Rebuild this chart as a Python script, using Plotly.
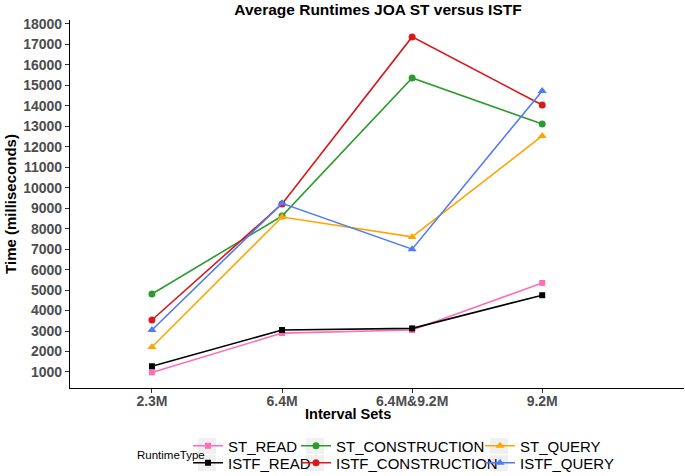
import plotly.graph_objects as go

categories = ["2.3M", "6.4M", "6.4M&9.2M", "9.2M"]

st_read = [980, 2900, 3050, 5350]
istf_read = [1280, 3050, 3130, 4750]
st_construction = [4810, 8620, 15360, 13120]
istf_construction = [3540, 9210, 17370, 14040]
st_query = [2220, 8570, 7600, 12530]
istf_query = [3050, 9240, 7000, 14730]

y_ticks = list(range(1000, 18001, 1000))

W, H = 685, 476
L, R, T, B = 70, 1, 20, 88
PW = W - L - R
PH = H - T - B

def px_x(p):
    return (p - L) / PW

def px_y(p):
    return (H - B - p) / PH

# name, values, colour, symbol, size, legend column left (px), row centre (px)
series = [
    ("ST_READ", st_read, "#FF6EB4", "square", 6, 188, 446),
    ("ISTF_READ", istf_read, "#000000", "square", 6, 188, 463),
    ("ST_CONSTRUCTION", st_construction, "#2E9A2E", "circle", 7, 296, 446),
    ("ISTF_CONSTRUCTION", istf_construction, "#D7191C", "circle", 7, 296, 463),
    ("ST_QUERY", st_query, "#FFA500", "triangle-up", 8, 480, 446),
    ("ISTF_QUERY", istf_query, "#4F7BF7", "triangle-up", 8, 480, 463),
]

FONT = "Liberation Sans, Arial, Helvetica, sans-serif"
legfont = dict(family=FONT, size=15, color="#000000")

fig = go.Figure()
legends = {}
shapes = []
for i, (name, vals, col, sym, sz, lx, ly) in enumerate(series):
    key = "legend" if i == 0 else f"legend{i + 1}"
    fig.add_trace(go.Scatter(
        x=categories, y=vals, name=name, mode="lines+markers",
        line=dict(color=col, width=1.6),
        marker=dict(color=col, symbol=sym, size=sz, line=dict(width=0)),
        legend=key,
    ))
    legends[key] = dict(x=px_x(lx), xanchor="left", y=px_y(ly), yanchor="middle",
                        orientation="v", font=legfont, bgcolor="rgba(0,0,0,0)",
                        itemwidth=30)
    cx = lx + 19
    shapes.append(dict(type="rect", xref="paper", yref="paper",
                       x0=px_x(cx - 9), x1=px_x(cx + 9),
                       y0=px_y(ly + 8), y1=px_y(ly - 8),
                       fillcolor="#F0F0F0", line=dict(width=0), layer="below"))

fig.update_layout(
    width=W, height=H,
    margin=dict(l=L, r=R, t=T, b=B, autoexpand=False),
    paper_bgcolor="white", plot_bgcolor="white",
    font=dict(family=FONT),
    showlegend=True,
    shapes=shapes,
    title=dict(text="<b>Average Runtimes JOA ST versus ISTF</b>",
               x=378 / W, xanchor="center", xref="container",
               y=1 - 10 / H, yanchor="middle", yref="container",
               font=dict(family=FONT, size=15.5, color="#000000")),
    xaxis=dict(
        type="category", range=[-0.63, 4.09],
        showline=True, linecolor="#000000", linewidth=1.2,
        ticks="outside", ticklen=4, tickcolor="#333333", tickwidth=1,
        showgrid=False, zeroline=False, automargin=False,
        ticklabelstandoff=-4,
        tickfont=dict(family=FONT, size=14, color="#4D4D4D", weight="bold"),
    ),
    yaxis=dict(
        range=[218, 18195], tickvals=y_ticks, ticktext=[str(v) for v in y_ticks],
        showline=True, linecolor="#000000", linewidth=1.2,
        ticks="outside", ticklen=4, tickcolor="#333333", tickwidth=1,
        showgrid=False, zeroline=False, automargin=False,
        tickfont=dict(family=FONT, size=14, color="#4D4D4D", weight="bold"),
        title=dict(text="<b>Time (milliseconds)</b>", standoff=2,
                   font=dict(family=FONT, size=15, color="#000000")),
    ),
    annotations=[
        dict(text="<b>Interval Sets</b>", xref="paper", yref="paper",
             x=px_x(348), y=px_y(414), xanchor="center", yanchor="middle",
             showarrow=False, font=dict(family=FONT, size=14.5, color="#000000")),
        dict(text="RuntimeType", xref="paper", yref="paper",
             x=px_x(135), y=px_y(455), xanchor="left", yanchor="middle",
             showarrow=False, font=dict(family=FONT, size=11.5, color="#000000")),
    ],
)
fig.update_layout(**legends)

fig.write_html("out.html", config={"displayModeBar": False},
               post_script="document.body.style.margin='0';document.body.style.padding='0';")
